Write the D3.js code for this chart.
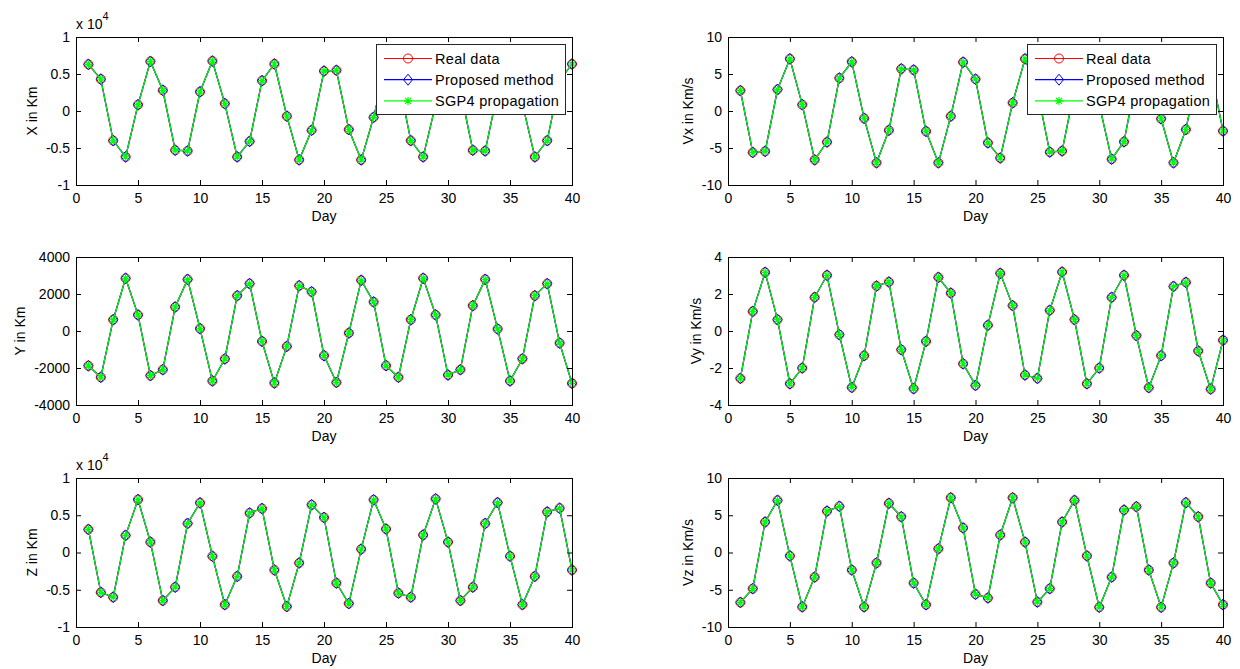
<!DOCTYPE html>
<html><head><meta charset="utf-8">
<script src="https://cdn.jsdelivr.net/npm/d3@7"></script>
<style>
body{margin:0;background:#fff}
svg{display:block;font-family:"Liberation Sans",Arial,Helvetica,sans-serif}
</style>
</head><body><svg id="c" width="1240" height="669"></svg>
<script>
// ---------- data ----------
const days = [1,2,3,4,5,6,7,8,9,10,11,12,13,14,15,16,17,18,19,20,21,22,23,24,25,26,27,28,29,30,31,32,33,34,35,36,37,38,39,40];
const xTicks = [0,5,10,15,20,25,30,35,40];
const seriesNames = ["Real data","Proposed method","SGP4 propagation"];

// X position (km)
const xKm = [6300,4300,-4000,-6200,850,6700,2800,-5300,-5400,2600,6750,1000,-6200,-4100,4100,6350,-700,-6600,-2600,5400,5500,-2500,-6600,-850,6300,4300,-4000,-6200,850,6700,2800,-5300,-5400,2600,6750,1000,-6200,-4000,4100,6350];
// Y position (km)
const yKm = [-1880,-2500,610,2850,870,-2410,-2090,1300,2790,130,-2700,-1510,1910,2560,-560,-2810,-830,2450,2120,-1330,-2780,-110,2740,1570,-1870,-2500,610,2850,870,-2380,-2090,1370,2790,110,-2700,-1500,1910,2560,-650,-2830];
// Z position (km)
const zKm = [3100,-5350,-6000,2300,7100,1400,-6450,-4650,3900,6670,-500,-7000,-3200,5300,5900,-2350,-7250,-1400,6400,4700,-4100,-6850,450,7070,3150,-5450,-6000,2350,7200,1400,-6450,-4650,3900,6700,-500,-7000,-3200,5450,5950,-2350];
// Velocities (km/s)
const vx = [2.75,-5.6,-5.45,2.9,7.05,0.85,-6.6,-4.2,4.45,6.65,-1.0,-7.0,-2.6,5.7,5.55,-2.75,-7.0,-0.7,6.6,4.3,-4.3,-6.35,1.1,7.05,2.75,-5.55,-5.4,2.9,7.05,0.85,-6.5,-4.15,4.45,6.65,-1.05,-7.0,-2.5,5.7,5.55,-2.7];
const vy = [-2.56,1.06,3.17,0.61,-2.85,-2.0,1.82,3.01,-0.2,-3.05,-1.33,2.43,2.65,-1.01,-3.12,-0.56,2.9,2.05,-1.77,-2.94,0.31,3.12,1.37,-2.38,-2.56,1.12,3.19,0.61,-2.85,-2.0,1.82,3.01,-0.25,-3.06,-1.33,2.41,2.63,-1.08,-3.14,-0.5];
const vz = [-6.7,-4.85,4.1,7.0,-0.45,-7.3,-3.3,5.55,6.2,-2.35,-7.3,-1.4,6.6,4.8,-4.1,-7.0,0.5,7.35,3.3,-5.6,-6.1,2.35,7.35,1.4,-6.65,-4.85,4.1,7.0,-0.45,-7.35,-3.3,5.7,6.15,-2.35,-7.35,-1.4,6.7,4.8,-4.1,-7.0];

// the three series overlap exactly in the figure
const realData = {x:xKm, y:yKm, z:zKm, vx:vx, vy:vy, vz:vz};
const proposedData = {x:xKm, y:yKm, z:zKm, vx:vx, vy:vy, vz:vz};
const sgp4Data = {x:xKm, y:yKm, z:zKm, vx:vx, vy:vy, vz:vz};

const posTicks = [-10000,-5000,0,5000,10000];
const posTickLabels = ["-1","-0.5","0","0.5","1"];
const yTicks = [-4000,-2000,0,2000,4000];
const yTickLabels = ["-4000","-2000","0","2000","4000"];
const v10Ticks = [-10,-5,0,5,10];
const v10TickLabels = ["-10","-5","0","5","10"];
const v4Ticks = [-4,-2,0,2,4];
const v4TickLabels = ["-4","-2","0","2","4"];

// ---------- layout ----------
const colX = [[76,572],[728,1223]];
const rowY = [[37,185],[257,405],[478,627]];
const panels = [
  {key:"x", label:"X in Km", dom:[-10000,10000], ticks:posTicks, labels:posTickLabels, exp:true, c:0, r:0, legend:true},
  {key:"vx", label:"Vx in Km/s", dom:[-10,10], ticks:v10Ticks, labels:v10TickLabels, c:1, r:0, legend:true},
  {key:"y", label:"Y in Km", dom:[-4000,4000], ticks:yTicks, labels:yTickLabels, c:0, r:1},
  {key:"vy", label:"Vy in Km/s", dom:[-4,4], ticks:v4Ticks, labels:v4TickLabels, c:1, r:1},
  {key:"z", label:"Z in Km", dom:[-10000,10000], ticks:posTicks, labels:posTickLabels, exp:true, c:0, r:2},
  {key:"vz", label:"Vz in Km/s", dom:[-10,10], ticks:v10Ticks, labels:v10TickLabels, c:1, r:2}
];
const styles = [
  {color:"#ff0000", marker:"circle", src:realData},
  {color:"#0000ff", marker:"diamond", src:proposedData},
  {color:"#00ff00", marker:"star", src:sgp4Data}
];
const FS = 14;
const svg = d3.select("#c");

function drawMarker(g, type, color, x, y){
  if(type==="circle"){
    g.append("circle").attr("cx",x).attr("cy",y).attr("r",4.5)
      .attr("fill","none").attr("stroke",color).attr("stroke-width",1);
  } else if(type==="diamond"){
    g.append("path").attr("d",`M${x},${y-5.5}L${x+4.5},${y}L${x},${y+5.5}L${x-4.5},${y}Z`)
      .attr("fill","none").attr("stroke",color).attr("stroke-width",1);
  } else {
    const a=4, b=3;
    g.append("path").attr("d",`M${x-a},${y}L${x+a},${y}M${x},${y-a}L${x},${y+a}M${x-b},${y-b}L${x+b},${y+b}M${x-b},${y+b}L${x+b},${y-b}`)
      .attr("fill","none").attr("stroke",color).attr("stroke-width",1.2);
  }
}

panels.forEach(p=>{
  const [x0,x1] = colX[p.c], [y0,y1] = rowY[p.r];
  const xs = d3.scaleLinear().domain([0,40]).range([x0,x1]);
  const ys = d3.scaleLinear().domain(p.dom).range([y1,y0]);
  const g = svg.append("g");

  g.append("rect").attr("x",x0).attr("y",y0).attr("width",x1-x0).attr("height",y1-y0).attr("fill","#fff");

  // data
  styles.forEach(s=>{
    const vals = s.src[p.key];
    const line = d3.line().x((d,i)=>xs(days[i])).y(d=>ys(d));
    g.append("path").attr("d",line(vals)).attr("fill","none").attr("stroke",s.color).attr("stroke-width",1.2);
    const mg = g.append("g");
    vals.forEach((v,i)=>drawMarker(mg, s.marker, s.color, xs(days[i]), ys(v)));
  });

  // axes (ticks inward)
  const lab = d3.scaleOrdinal().domain(p.ticks).range(p.labels);
  const ax = g.append("g").attr("transform",`translate(0,${y1})`)
    .call(d3.axisBottom(xs).tickValues(xTicks).tickSize(-5).tickSizeOuter(0).tickPadding(8).tickFormat(d3.format("d")));
  const axT = g.append("g").attr("transform",`translate(0,${y0})`)
    .call(d3.axisTop(xs).tickValues(xTicks).tickSize(-5).tickSizeOuter(0).tickFormat(""));
  const ayL = g.append("g").attr("transform",`translate(${x0},0)`)
    .call(d3.axisLeft(ys).tickValues(p.ticks).tickSize(-5).tickSizeOuter(0).tickPadding(6).tickFormat(d=>lab(d)));
  const ayR = g.append("g").attr("transform",`translate(${x1},0)`)
    .call(d3.axisRight(ys).tickValues(p.ticks).tickSize(-5).tickSizeOuter(0).tickFormat(""));
  [ax,axT,ayL,ayR].forEach(a=>{
    a.select(".domain").remove();
    a.selectAll("line").attr("stroke","#000");
    a.selectAll("text").attr("fill","#000").style("font-size",FS+"px").style("font-family","'Liberation Sans',Arial,sans-serif");
  });
  g.append("rect").attr("x",x0+0.5).attr("y",y0+0.5).attr("width",x1-x0).attr("height",y1-y0)
    .attr("fill","none").attr("stroke","#000").attr("stroke-width",1);

  // labels
  g.append("text").attr("x",(x0+x1)/2).attr("y",y1+36).attr("text-anchor","middle")
    .style("font-size",FS+"px").text("Day");
  let maxW = 0;
  ayL.selectAll("text").each(function(){ maxW = Math.max(maxW, this.getComputedTextLength()); });
  const labX = x0 - 6 - maxW - 9;
  g.append("text").attr("transform",`translate(${labX},${(y0+y1)/2}) rotate(-90)`)
    .attr("text-anchor","middle").style("font-size",FS+"px").text(p.label);
  if(p.exp){
    const t = g.append("text").attr("x",x0).attr("y",y0-8).style("font-size",FS+"px");
    t.append("tspan").text("x 10");
    t.append("tspan").attr("dy",-9).style("font-size","11px").text("4");
  }

  // legend
  if(p.legend){
    const bw=189, bh=70, bx=x1-7-bw, by=y0+7;
    const lg = g.append("g");
    lg.append("rect").attr("x",bx+0.5).attr("y",by+0.5).attr("width",bw).attr("height",bh)
      .attr("fill","#fff").attr("stroke","#262626").attr("stroke-width",1);
    styles.forEach((s,i)=>{
      const cy = by + 14.5 + i*21.2;
      lg.append("line").attr("x1",bx+8).attr("x2",bx+56).attr("y1",cy).attr("y2",cy)
        .attr("stroke",s.color).attr("stroke-width",1.2);
      drawMarker(lg, s.marker, s.color, bx+32, cy);
      lg.append("text").attr("x",bx+59).attr("y",cy).attr("dy","0.36em")
        .style("font-size","14.5px").style("letter-spacing","0.3px").text(seriesNames[i]);
    });
  }
});
</script>
</body></html>
